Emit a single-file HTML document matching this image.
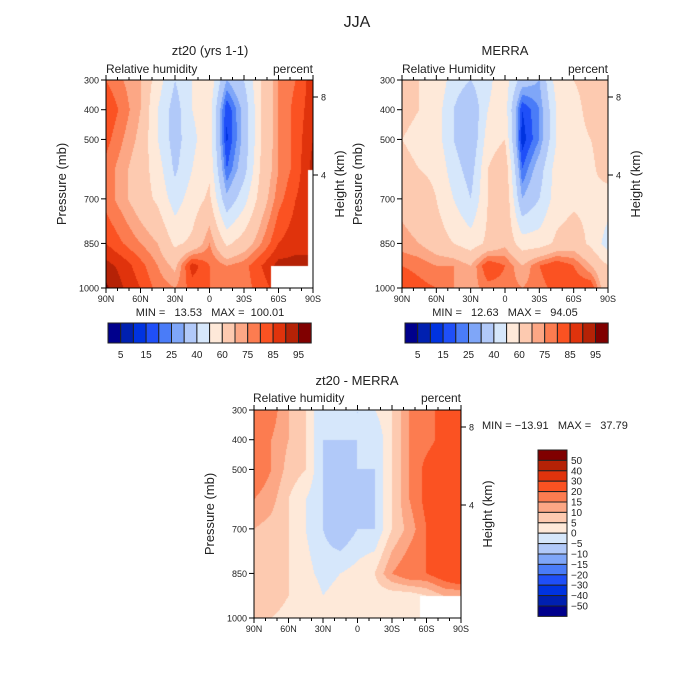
<!DOCTYPE html>
<html><head><meta charset="utf-8">
<style>
html,body{margin:0;padding:0;background:#fff;}
#wrap{position:relative;width:700px;height:700px;overflow:hidden;}
canvas,svg{position:absolute;left:0;top:0;}
text{font-family:"Liberation Sans",sans-serif;fill:#222;white-space:pre;}
</style></head>
<body>
<div id="wrap">
<canvas id="cv" width="700" height="700"></canvas>
<svg id="sv" width="700" height="700">
<text x="357" y="27" font-size="16" text-anchor="middle" fill="#333">JJA</text>
<text x="210" y="55" font-size="13" text-anchor="middle">zt20 (yrs 1-1)</text>
<text x="106" y="73" font-size="12">Relative humidity</text>
<text x="313" y="73" font-size="12" text-anchor="end">percent</text>
<text x="505" y="55" font-size="13" text-anchor="middle">MERRA</text>
<text x="402" y="73" font-size="12">Relative Humidity</text>
<text x="608" y="73" font-size="12" text-anchor="end">percent</text>
<text x="357" y="385" font-size="13" text-anchor="middle">zt20 - MERRA</text>
<text x="253" y="402" font-size="12">Relative humidity</text>
<text x="461" y="402" font-size="12" text-anchor="end">percent</text>
<text x="210" y="316" font-size="11" text-anchor="middle">MIN =   13.53   MAX =  100.01</text>
<text x="505" y="316" font-size="11" text-anchor="middle">MIN =   12.63   MAX =   94.05</text>
<text x="482" y="429" font-size="11">MIN = −13.91   MAX =   37.79</text>
</svg>
</div>
<script>
// ---- data ----
const latLabels = ["90N","60N","30N","0","30S","60S","90S"];
const pressureLevels = [300,400,500,600,700,850,925,1000];
const pressureTicks = [300,400,500,700,850,1000];
const heightTicks = ["8","4"];
const rhLevels = [5,10,15,20,25,30,40,50,60,70,75,80,85,90,95];
const rhLabels = ["5","15","25","40","60","75","85","95"];
const diffLevels = [-50,-40,-30,-20,-15,-10,-5,0,5,10,15,20,30,40,50];
const diffLabels = ["50","40","30","20","15","10","5","0","−5","−10","−15","−20","−30","−40","−50"];
const colors = ["#00008c","#0020b0","#0033e0","#1f4ff8","#4a7cf8","#7fa6f8","#b1c9f9","#d6e7fb","#fee9d9","#fdcab0","#fca785","#fc7c50","#fb5222","#e0330c","#b52206","#800000"];
// rows: pressureLevels, cols: 90N..90S every 15 deg
const modelRH = [
 [80,75,70,55,40,50,58,30,40,60,75,80,88],
 [85,78,70,50,35,50,55,15,33,60,75,82,88],
 [82,75,68,50,35,48,55,14,33,60,75,82,90],
 [78,72,65,55,38,50,58,20,36,62,75,82,92],
 [78,72,65,58,45,55,62,32,46,65,78,85,90],
 [85,80,75,70,58,62,75,58,65,75,85,88,90],
 [92,88,82,75,68,88,80,75,78,85,92,92,90],
 [96,90,85,78,75,82,80,75,78,82,88,90,90]];
const merraRH = [
 [65,60,58,45,40,48,55,35,30,55,60,62,65],
 [62,60,55,40,30,50,55,15,25,50,58,62,65],
 [60,58,55,40,30,55,60,12,25,50,58,60,65],
 [62,60,58,45,35,60,68,20,35,55,58,58,65],
 [68,65,60,50,40,60,70,30,40,55,58,58,55],
 [72,70,65,60,55,62,68,55,55,62,65,58,45],
 [80,78,75,75,70,85,80,70,80,85,80,70,60],
 [85,82,80,75,72,78,78,75,78,82,85,85,60]];
const diffRH = [
 [20,18,10,5,-5,0,-5,0,5,15,20,20,25],
 [20,15,10,5,-5,-5,-5,-5,5,15,18,22,20],
 [20,15,8,5,-5,-10,-5,-5,5,15,22,25,25],
 [15,12,5,0,-5,-10,-10,-5,5,15,22,25,25],
 [10,8,5,0,-5,-10,-5,-5,5,12,20,25,30],
 [10,8,5,2,-2,0,2,5,15,20,20,25,30],
 [10,8,5,5,0,2,3,2,2,2,5,10,10],
 [5,5,3,2,2,2,2,0,0,3,5,5,5]];

const panels = [
 {id:"panel1", x:106, y:80, w:207, h:208, grid:modelRH, levels:rhLevels, masks:[[271,266,42,22],[308,170,5,118]], hx:340},
 {id:"panel2", x:402, y:80, w:206, h:208, grid:merraRH, levels:rhLevels, masks:[], hx:636},
 {id:"panel3", x:254, y:410, w:207, h:208, grid:diffRH, levels:diffLevels, masks:[[420,596,41,22]], hx:488}
];

const cv=document.getElementById('cv'); const ctx=cv.getContext('2d');
const sv=document.getElementById('sv'); const NS="http://www.w3.org/2000/svg";
function mk(tag,attrs,txt){const e=document.createElementNS(NS,tag);for(const k in attrs)e.setAttribute(k,attrs[k]);if(txt!==undefined)e.textContent=txt;sv.appendChild(e);return e;}
function rgb(h){return [parseInt(h.substr(1,2),16),parseInt(h.substr(3,2),16),parseInt(h.substr(5,2),16)];}
const crgb=colors.map(rgb);
function levelIndex(v,levels){let i=0;while(i<levels.length&&v>=levels[i])i++;return i;}
function sample(grid,u,p){
  const nc=grid[0].length-1; let fx=u*nc; let i=Math.min(Math.floor(fx),nc-1); let tx=fx-i;
  let j=0; while(j<pressureLevels.length-2&&p>pressureLevels[j+1])j++;
  let ty=(p-pressureLevels[j])/(pressureLevels[j+1]-pressureLevels[j]);
  const a=grid[j][i],b=grid[j][i+1],c=grid[j+1][i],d=grid[j+1][i+1];
  return (a*(1-tx)+b*tx)*(1-ty)+(c*(1-tx)+d*tx)*ty;
}
function xScale(P,frac){return P.x+frac*P.w;}
function pScale(P,p){return P.y+(p-300)/700*P.h;}

panels.forEach(P=>{
  const img=ctx.createImageData(P.w,P.h);
  for(let py=0;py<P.h;py++){const p=300+(py+0.5)/P.h*700;
    for(let px=0;px<P.w;px++){const v=sample(P.grid,(px+0.5)/P.w,p);
      const c=crgb[levelIndex(v,P.levels)];const k=(py*P.w+px)*4;
      img.data[k]=c[0];img.data[k+1]=c[1];img.data[k+2]=c[2];img.data[k+3]=255;}}
  ctx.putImageData(img,P.x,P.y);
  ctx.fillStyle="#fff";
  P.masks.forEach(m=>ctx.fillRect(m[0],m[1],m[2],m[3]));
  const fr=mk('rect',{x:P.x,y:P.y,width:P.w,height:P.h,fill:'none',stroke:'#000','stroke-width':1});
  
  
  for(let d=0;d<=18;d++){const x=xScale(P,d/18);const L=(d%3===0)?5:3;
    const t1=mk('line',{x1:x,y1:P.y+P.h,x2:x,y2:P.y+P.h+L,stroke:'#000'});
    
    
    const t2=mk('line',{x1:x,y1:P.y,x2:x,y2:P.y-L,stroke:'#000'});
    
    }
  latLabels.forEach((s,i)=>{const t=mk('text',{x:xScale(P,i/6),y:P.y+P.h+14,'font-size':9,'text-anchor':'middle'},s);
    
    });
  pressureTicks.forEach(p=>{const y=pScale(P,p);
    const l=mk('line',{x1:P.x-5,y1:y,x2:P.x,y2:y,stroke:'#000'});
    
    
    const t=mk('text',{x:P.x-7,y:y+3.5,'font-size':9,'text-anchor':'end'},p);
    
    });
  const hy=[P.y+17,P.y+95];
  heightTicks.forEach((s,i)=>{
    const l=mk('line',{x1:P.x+P.w,y1:hy[i],x2:P.x+P.w+5,y2:hy[i],stroke:'#000'});
    
    
    const t=mk('text',{x:P.x+P.w+8,y:hy[i]+3.5,'font-size':9},s);
    
    });
  const yt=mk('text',{x:0,y:0,'font-size':13,'text-anchor':'middle',transform:`translate(${P.x-40},${P.y+P.h/2}) rotate(-90)`},'Pressure (mb)');
  
  
  const ht=mk('text',{x:0,y:0,'font-size':13,'text-anchor':'middle',transform:`translate(${P.hx+4},${P.y+P.h/2}) rotate(-90)`},'Height (km)');
  
  
});

[108,405].forEach((x0,k)=>{
  const bw=12.7;
  colors.forEach((c,i)=>{const r=mk('rect',{x:x0+i*bw,y:323,width:bw,height:20,fill:c,stroke:'#222','stroke-width':1});
    
    });
  rhLabels.forEach((s,i)=>{const t=mk('text',{x:x0+(2*i+1)*bw,y:358,'font-size':10,'text-anchor':'middle'},s);
    
    });
});
{const bh=10.4, x0=538, y0=450;
 colors.slice().reverse().forEach((c,i)=>{const r=mk('rect',{x:x0,y:y0+i*bh,width:29,height:bh,fill:c,stroke:'#222','stroke-width':1});
   
   });
 diffLabels.forEach((s,i)=>{const t=mk('text',{x:x0+33,y:y0+(i+1)*bh+3.5,'font-size':10},s);
   
   });
}
</script>
</body></html>
